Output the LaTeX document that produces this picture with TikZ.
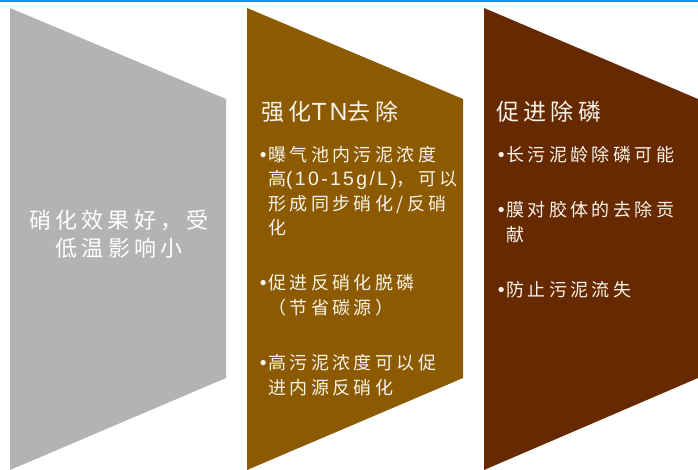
\documentclass[tikz,border=0pt]{standalone}
\usepackage{fontspec}
\setmainfont{Noto Sans CJK SC}[LetterSpace=19]
\newfontfamily\latinfont{Liberation Sans}[LetterSpace=12, Scale=1.08]
\usetikzlibrary{positioning}
\definecolor{topblue}{HTML}{009FE3}
\definecolor{panelgray}{HTML}{B3B3B3}
\definecolor{panelgold}{HTML}{8C5A00}
\definecolor{panelbrown}{HTML}{662900}
\definecolor{textcream}{HTML}{F7F3EA}
\newcommand{\dotmark}{\llap{{\latinfont •}\hspace{1.5pt}}}

\begin{document}
\begin{tikzpicture}[
    x=1pt, y=-1pt,
    heading/.style={anchor=west, inner sep=0pt, text=textcream, font=\fontsize{23}{26}\selectfont},
    item/.style={anchor=north west, inner sep=0pt, align=left, text=textcream, font=\fontsize{18}{24.5}\selectfont},
    gist/.style={inner sep=0pt, align=center, text=white, font=\fontsize{22}{28}\selectfont},
    node distance=38pt
]
\useasboundingbox (0,0) rectangle (698,470);

% top rule
\fill[topblue] (0,0) rectangle (698,2.5);

% panels
\fill[panelgray] (10,8) -- (226,99) -- (226,378) -- (10,470) -- cycle;
\fill[panelgold] (247,8) -- (463,99) -- (463,378) -- (247,470) -- cycle;
\fill[panelbrown] (484,8) -- (698,99) -- (698,378) -- (484,470) -- cycle;

% left panel
\node[gist] (nitGist) at (119,234) {硝化效果好，受\\低温影响小};

% middle panel
\node[heading] (tnHead) at (261,112) {强化{\latinfont TN}去除};
\node[item] (tnA) at (268,146) {\dotmark 曝气池内污泥浓度\\高{\latinfont(10-15g/L)}，可以\\形成同步硝化/反硝\\化};
\node[item, below=of tnA.south west, anchor=north west] (tnB) {\dotmark 促进反硝化脱磷\\（节省碳源）};
\node[item, below=of tnB.south west, anchor=north west] (tnC) {\dotmark 高污泥浓度可以促\\进内源反硝化};

% right panel
\node[heading] (pHead) at (496,112) {促进除磷};
\node[item] (pA) at (506,146) {\dotmark 长污泥龄除磷可能};
\node[item, below=of pA.south west, anchor=north west] (pB) {\dotmark 膜对胶体的去除贡\\献};
\node[item, below=of pB.south west, anchor=north west] (pC) {\dotmark 防止污泥流失};

\end{tikzpicture}
\end{document}
